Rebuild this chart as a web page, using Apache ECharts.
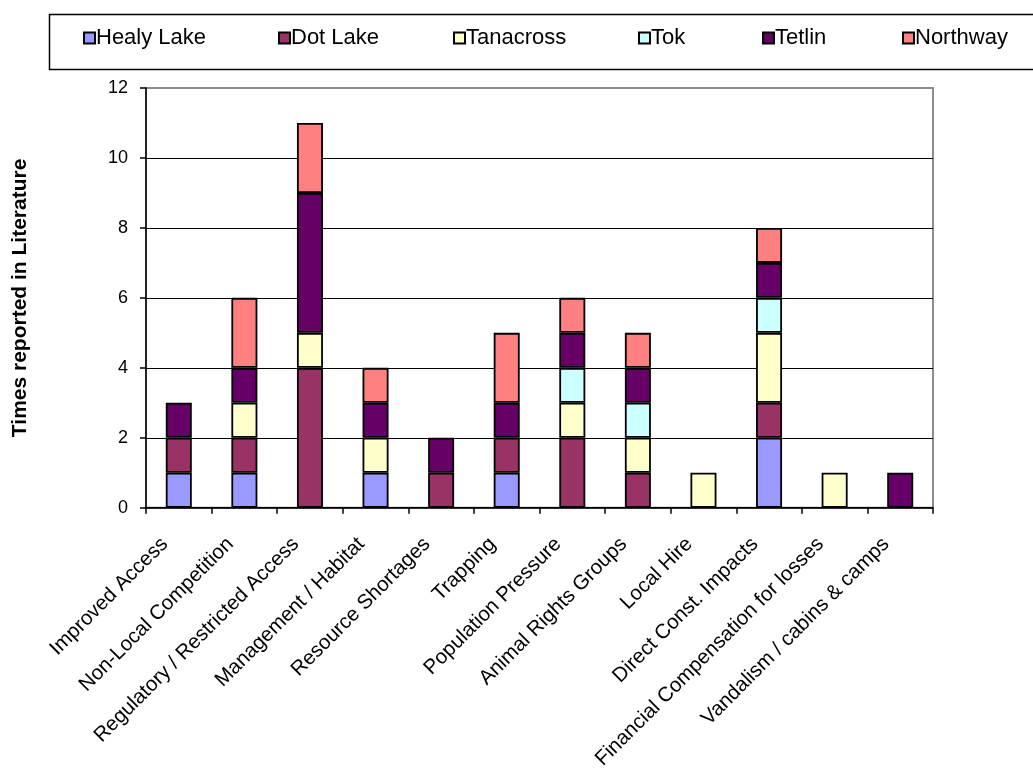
<!DOCTYPE html>
<html>
<head>
<meta charset="utf-8">
<script src="https://cdn.jsdelivr.net/npm/echarts@6/dist/echarts.min.js"></script>
<style>
  html, body { margin: 0; padding: 0; background: #fff; }
  #chart { width: 1033px; height: 772px; }
</style>
</head>
<body>
<div id="chart"></div>
<script>
// Issue categories (x axis)
const categories = [
  'Improved Access',
  'Non-Local Competition',
  'Regulatory / Restricted Access',
  'Management / Habitat',
  'Resource Shortages',
  'Trapping',
  'Population Pressure',
  'Animal Rights Groups',
  'Local Hire',
  'Direct Const. Impacts',
  'Financial Compensation for losses',
  'Vandalism / cabins & camps'
];

// Times each issue was reported, per community
const healyLake = [1, 1, 0, 1, 0, 1, 0, 0, 0, 2, 0, 0];
const dotLake   = [1, 1, 4, 0, 1, 1, 2, 1, 0, 1, 0, 0];
const tanacross = [0, 1, 1, 1, 0, 0, 1, 1, 1, 2, 1, 0];
const tok       = [0, 0, 0, 0, 0, 0, 1, 1, 0, 1, 0, 0];
const tetlin    = [1, 1, 4, 1, 1, 1, 1, 1, 0, 1, 0, 1];
const northway  = [0, 2, 2, 1, 0, 2, 1, 1, 0, 1, 0, 0];

const yTicks = [0, 2, 4, 6, 8, 10, 12];

const seriesDefs = [
  { name: 'Healy Lake', data: healyLake, color: '#9999FF' },
  { name: 'Dot Lake',   data: dotLake,   color: '#993366' },
  { name: 'Tanacross',  data: tanacross, color: '#FFFFCC' },
  { name: 'Tok',        data: tok,       color: '#CCFFFF' },
  { name: 'Tetlin',     data: tetlin,    color: '#660066' },
  { name: 'Northway',   data: northway,  color: '#FF8080' }
];

// Horizontal slot of each legend entry inside the legend box
const legendSlots = [83, 278, 453, 638, 762, 902];

const FONT = 'Arial, "Liberation Sans", sans-serif';

const chart = echarts.init(document.getElementById('chart'), null, { renderer: 'canvas' });

chart.setOption({
  backgroundColor: '#ffffff',
  animation: false,
  textStyle: { fontFamily: FONT, color: '#000' },
  graphic: [{
    type: 'rect',
    left: 47,
    top: 12,
    shape: { width: 1010, height: 55 },
    style: { fill: 'none', stroke: '#000', lineWidth: 1.5 },
    z: 0
  }],
  legend: seriesDefs.map((s, i) => ({
    left: legendSlots[i],
    top: 27,
    padding: 0,
    itemWidth: 11,
    itemHeight: 11,
    icon: 'rect',
    textStyle: { fontFamily: FONT, fontSize: 22, color: '#000', padding: [0, 0, 0, -4] },
    data: [s.name]
  })),
  grid: {
    left: 146,
    right: 100,
    top: 88,
    bottom: 264,
    show: true,
    borderColor: '#8c8c8c',
    borderWidth: 2,
    containLabel: false
  },
  xAxis: {
    type: 'category',
    data: categories,
    boundaryGap: true,
    axisLine: { show: true, lineStyle: { color: '#000', width: 1.5 } },
    axisTick: { show: true, length: 6, alignWithLabel: false, lineStyle: { color: '#000', width: 1.5 } },
    axisLabel: {
      interval: 0,
      rotate: 45,
      margin: 19,
      fontSize: 20.5,
      fontFamily: FONT,
      color: '#000',
      padding: [0, 20, 0, 0]
    },
    splitLine: { show: false }
  },
  yAxis: {
    type: 'value',
    min: yTicks[0],
    max: yTicks[yTicks.length - 1],
    interval: 2,
    name: 'Times reported in Literature',
    nameLocation: 'middle',
    nameRotate: 90,
    nameGap: 115,
    nameTextStyle: { fontFamily: FONT, fontSize: 21, fontWeight: 'bold', color: '#000' },
    axisLine: { show: true, lineStyle: { color: '#000', width: 1.5 } },
    axisTick: { show: true, length: 6, lineStyle: { color: '#000', width: 1.5 } },
    axisLabel: {
      margin: 18,
      fontSize: 18,
      fontFamily: FONT,
      color: '#000',
      formatter: v => String(v)
    },
    splitLine: {
      show: true,
      lineStyle: {
        color: ['#000', '#000', '#000', '#000', '#000', '#000', '#8c8c8c'],
        width: 1.2
      }
    }
  },
  series: seriesDefs.map(s => ({
    name: s.name,
    type: 'bar',
    stack: 'total',
    barWidth: 26,
    data: s.data.map(v => v === 0 ? null : v),
    itemStyle: { color: s.color, borderColor: '#000', borderWidth: 1.8 },
    emphasis: { disabled: true }
  }))
});
</script>
</body>
</html>
